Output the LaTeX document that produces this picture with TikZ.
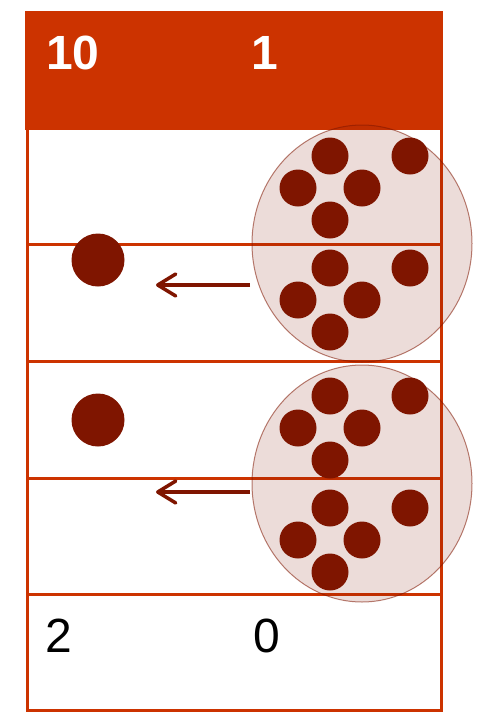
\documentclass[tikz,border=0pt]{standalone}
\usepackage{fontspec}
\setmainfont{Liberation Sans}
\usetikzlibrary{shapes.geometric,arrows.meta}
\definecolor{hdr}{HTML}{CC3300}
\definecolor{maroon}{HTML}{7F1500}
\tikzset{
  x=1pt,y=-1pt,
  grid/.style={draw=hdr,line width=3pt},
  dot/.style={circle,fill=maroon,inner sep=0pt,minimum size=37pt},
  bigdot/.style={circle,fill=maroon,inner sep=0pt,minimum size=53pt},
  group/.style={ellipse,fill=maroon,fill opacity=0.15,draw=maroon,draw opacity=0.55,line width=1pt,inner sep=0pt,minimum width=220pt,minimum height=237pt},
  carry/.style={draw=maroon,line width=3.5pt,-{Straight Barb[length=18pt,width=22pt,line cap=round,round]}},
  hdrtxt/.style={text=white,font=\fontsize{48}{48}\selectfont\bfseries,anchor=base,inner sep=0pt},
  numtxt/.style={text=black,font=\fontsize{48}{48}\selectfont,anchor=base,inner sep=0pt}
}
\begin{document}
\begin{tikzpicture}
\useasboundingbox (0,0) rectangle (481,721);
% header
\fill[hdr] (25,11) rectangle (443,130);
\node[hdrtxt] (h10) at (73,69) {10};
\node[hdrtxt] (h1) at (265,69) {1};
% grid
\draw[grid] (27,130) -- (27,710) -- (441,710) -- (441,130);
\draw[grid] (27,244) -- (441,244);
\draw[grid] (27,361) -- (441,361);
\draw[grid] (27,478) -- (441,478);
\draw[grid] (27,594) -- (441,594);
% groups
\node[group] (g1) at (362,243.5) {};
\node[group] (g2) at (362,483.5) {};
% dots
\foreach \n/\yy in {a/0,b/112,c/240,d/352}{
  \node[dot] (t\n) at (330,156+\yy) {};
  \node[dot] (r\n) at (410,156+\yy) {};
  \node[dot] (l\n) at (298,188+\yy) {};
  \node[dot] (m\n) at (362,188+\yy) {};
  \node[dot] (b\n) at (330,220+\yy) {};
}
% single tens dots
\node[bigdot] (s1) at (98,260) {};
\node[bigdot] (s2) at (98,420) {};
% arrows
\coordinate (a1s) at (250,285);
\coordinate (a1e) at (156,285);
\coordinate (a2s) at (250,492);
\coordinate (a2e) at (156,492);
\draw[carry] (a1s) -- (a1e);
\draw[carry] (a2s) -- (a2e);
% result
\node[numtxt] (n2) at (59,652) {2};
\node[numtxt] (n0) at (267,652) {0};
\end{tikzpicture}
\end{document}
